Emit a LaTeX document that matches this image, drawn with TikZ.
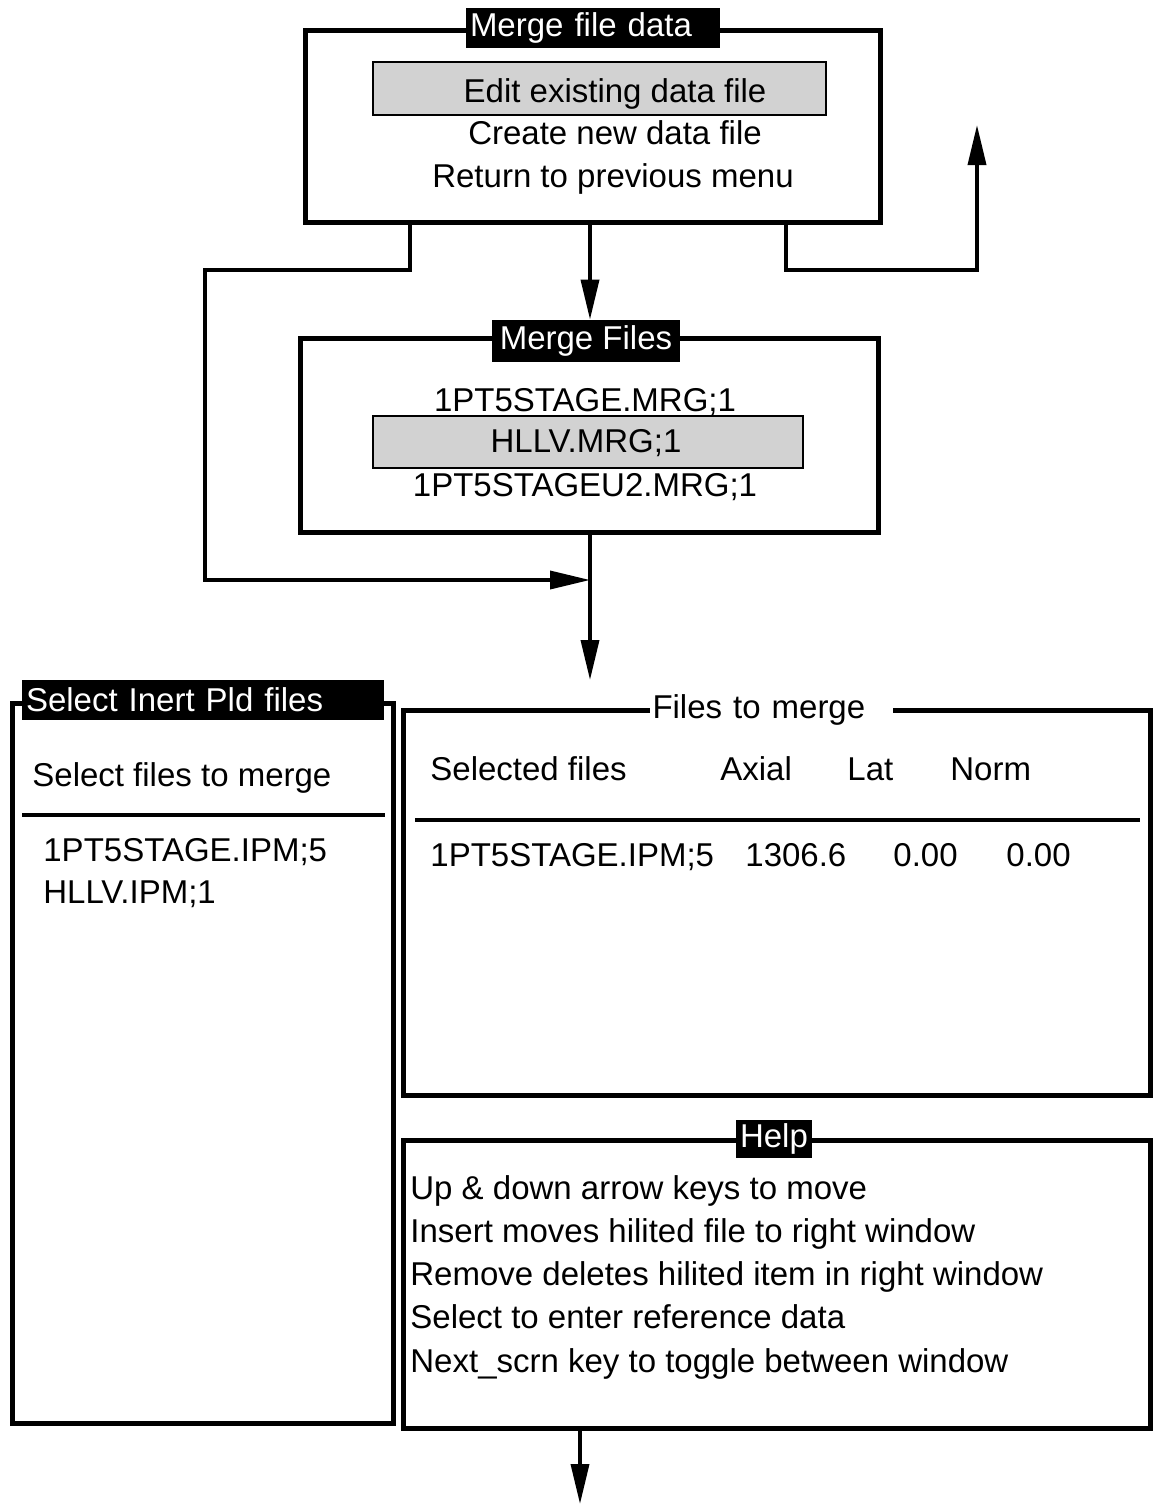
\documentclass[tikz,border=0pt]{standalone}
\usepackage{fontspec}
\setmainfont{Liberation Sans}
\usetikzlibrary{arrows.meta, positioning}

\newcommand{\scrfont}{\fontsize{16.5}{20}\selectfont}

\begin{document}
\begin{tikzpicture}[x=0.5pt, y=-0.5pt, >={Triangle[length=20pt, width=9pt]},
      win/.style={draw, line width=2.5pt, inner sep=0pt},
      ttl/.style={fill=black, text=white, font=\scrfont, inner xsep=2pt,
                  inner ysep=0pt, minimum height=20pt},
      hilite/.style={draw, line width=1.3pt, fill=gray!35, inner sep=0pt},
      txt/.style={font=\scrfont, anchor=base, inner sep=0pt},
      ltxt/.style={font=\scrfont, anchor=base west, inner sep=0pt},
      wire/.style={line width=1.8pt},
      rule/.style={line width=2.2pt}]

    \useasboundingbox (0,0) rectangle (1153,1506);

    % === Merge file data ===
    \node[win, minimum width=287.5pt, minimum height=96pt] (mfd) at (592.5,126) {};
    \node[ttl, minimum width=127pt, text width=123pt, align=left] (mfdt) at (593,28) {Merge file data};
    \node[hilite, minimum width=226.5pt, minimum height=26.5pt] (hl1) at (599.5,88.5) {};
    \node[txt] (edit) at (615,102) {Edit existing data file};
    \node[txt] (create) at (615,144) {Create new data file};
    \node[txt] (back) at (613,187) {Return to previous menu};

    % === Merge Files ===
    \node[win, minimum width=289pt, minimum height=97pt] (mf) at (589,435) {};
    \node[ttl, minimum width=94pt, minimum height=21pt] (mft) at (586,341) {Merge Files};
    \node[hilite, minimum width=215pt, minimum height=26pt] (hl2) at (588,442) {};
    \node[txt] (mrg1) at (585,411) {1PT5STAGE.MRG;1};
    \node[txt] (mrg2) at (586,452) {HLLV.MRG;1};
    \node[txt] (mrg3) at (585,496) {1PT5STAGEU2.MRG;1};

    % === connectors ===
    \coordinate (lt) at (410,270);
    \coordinate (lb) at (205,580);
    \coordinate (jn) at (590,580);
    \coordinate (rt) at (786,270);
    \coordinate (ret) at (977,125);
    \coordinate (dn) at (590,680);
    \coordinate (out) at (580,1504);

    \draw[wire, ->] (mfd.south -| lt) -- (lt) -| (lb) -- (jn);
    \draw[wire, ->] (mfd.south -| jn) -- (mft.north -| jn);
    \draw[wire, ->] (mfd.south -| rt) -- (rt) -| (ret);
    \draw[wire, ->] (mf.south -| jn) -- (dn);

    % === Select Inert Pld files ===
    \node[win, minimum width=190.5pt, minimum height=360pt] (sel) at (202.5,1063) {};
    \node[ttl, minimum width=181pt, text width=177pt, align=left] (selt) at (203,700) {Select Inert Pld files};
    \node[ltxt] (selhd) at (32,786) {Select files to merge};
    \draw[rule] (22,815) -- (385,815);
    \node[ltxt] (ipm1) at (43,861) {1PT5STAGE.IPM;5};
    \node[ltxt] (ipm2) at (43,903) {HLLV.IPM;1};

    % === Files to merge ===
    \node[win, minimum width=373.5pt, minimum height=192.5pt] (ftm) at (776.5,902.5) {};
    \node[fill=white, font=\scrfont, inner xsep=1.25pt, inner ysep=0pt, minimum height=20pt,
          text width=119pt, align=left] (ftmt) at (771.5,710) {Files to merge};
    \node[ltxt] (hfile) at (430,780) {Selected files};
    \node[ltxt] (hax) at (720,780) {Axial};
    \node[ltxt] (hlat) at (847,780) {Lat};
    \node[ltxt] (hnorm) at (950,780) {Norm};
    \draw[rule] (415,820) -- (1140,820);
    \node[ltxt] (rfile) at (430,866) {1PT5STAGE.IPM;5};
    \node[ltxt] (rax) at (745,866) {1306.6};
    \node[ltxt] (rlat) at (893,866) {0.00};
    \node[ltxt] (rnorm) at (1006,866) {0.00};

    % === Help ===
    \node[win, minimum width=373.5pt, minimum height=144pt] (help) at (776.5,1284) {};
    \node[ttl, minimum width=36pt, minimum height=19pt] (helpt) at (774,1139) {Help};
    \foreach \y/\t [count=\i] in {1199/{Up \& down arrow keys to move},
                                  1242/{Insert moves hilited file to right window},
                                  1285/{Remove deletes hilited item in right window},
                                  1328/{Select to enter reference data},
                                  1372/{Next\_scrn key to toggle between window}}
      \node[ltxt] (hl\i) at (410,\y) {\t};

    \draw[wire, ->] (help.south -| out) -- (out);

\end{tikzpicture}
\end{document}
